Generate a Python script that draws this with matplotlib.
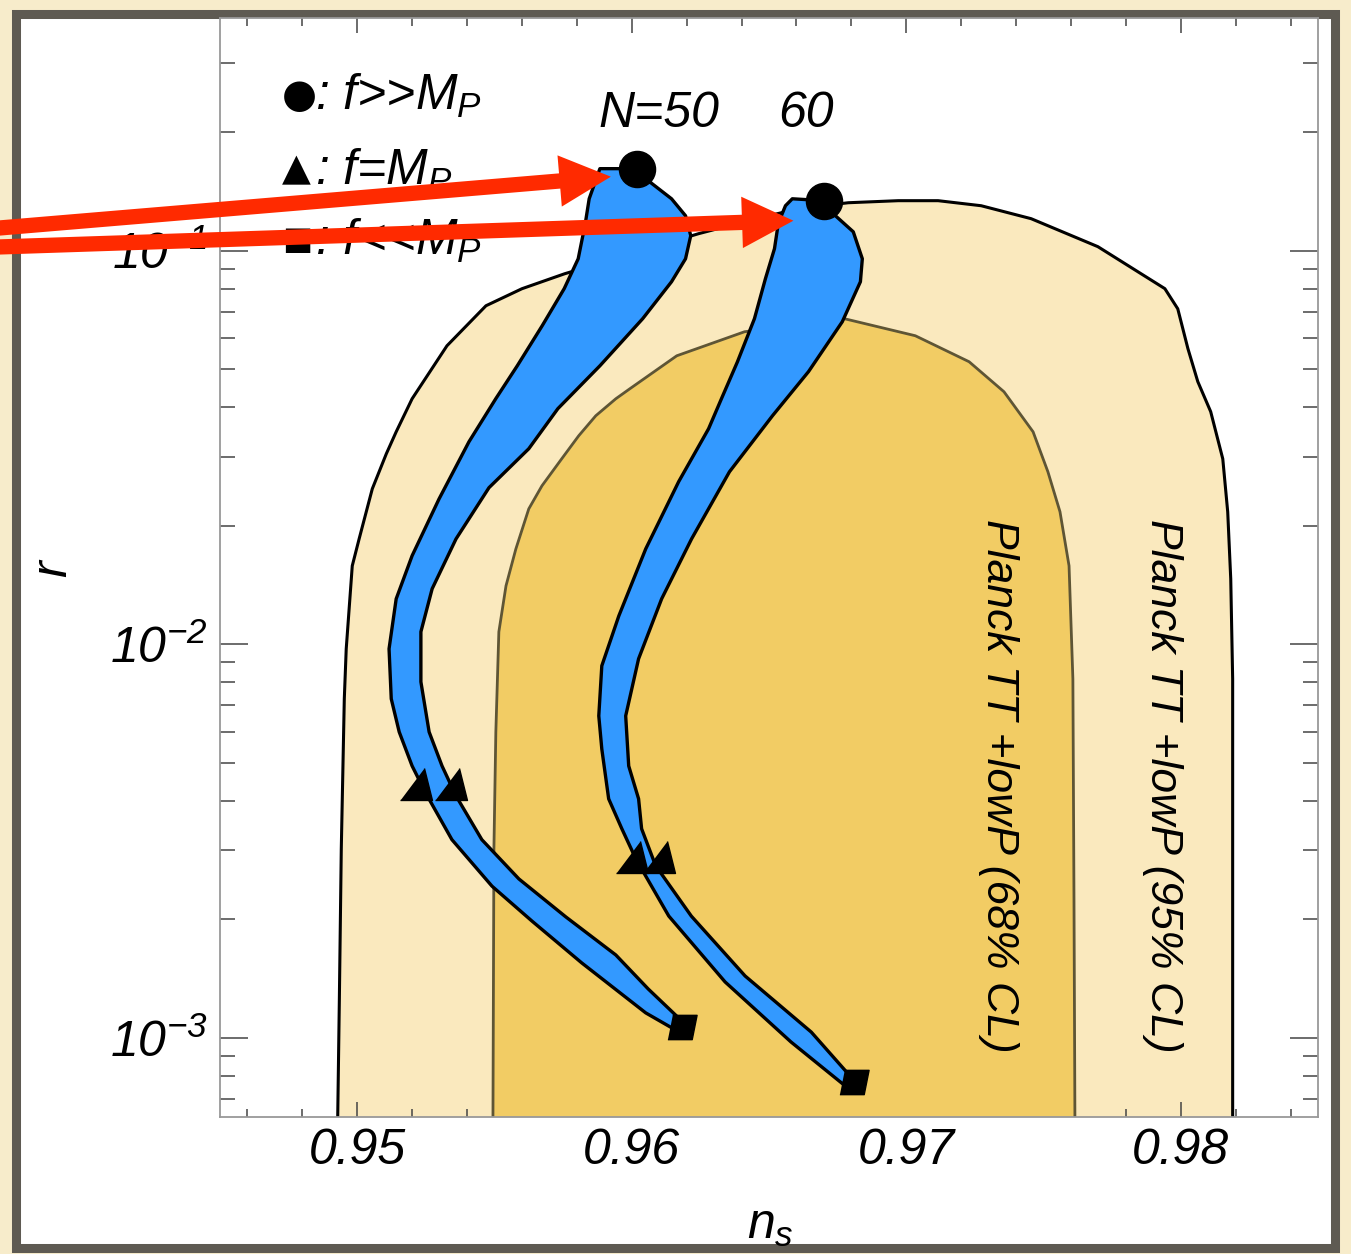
import numpy as np
import matplotlib
matplotlib.use('Agg')
import matplotlib.pyplot as plt
from matplotlib import patches, ticker

plt.rcParams['font.family'] = ['Liberation Sans', 'DejaVu Sans']
plt.rcParams['font.style'] = 'italic'
plt.rcParams['mathtext.fontset'] = 'custom'
plt.rcParams['mathtext.it'] = 'Liberation Sans:italic'
plt.rcParams['mathtext.rm'] = 'Liberation Sans:italic'

# contorno Planck TT+lowP 95% CL (ns, r)
ns_95 = [0.94927, 0.94935, 0.94942, 0.94953, 0.94960, 0.94982, 0.95007, 0.95055, 0.95106, 0.95142,
         0.95200, 0.95327, 0.95469, 0.95600, 0.95756, 0.95880, 0.96062, 0.96244, 0.96425, 0.96607,
         0.96789, 0.96971, 0.97116, 0.97273, 0.97455, 0.97698, 0.97942, 0.97989, 0.98026, 0.98062,
         0.98109, 0.98153, 0.98171, 0.98182, 0.98189, 0.98189, 0.98189]
r_95 = [5e-4, 1.256e-3, 3.02e-3, 7.27e-3, 9.74e-3, 1.583e-2, 1.853e-2, 2.484e-2, 3.048e-2, 3.467e-2,
        4.206e-2, 5.735e-2, 7.247e-2, 8.006e-2, 8.741e-2, 9.27e-2, 0.1012, 0.1105, 0.1192, 0.1279,
        0.1324, 0.1340, 0.1340, 0.1301, 0.1206, 0.1024, 0.0801, 0.0712, 0.0564, 0.0465,
        0.0390, 0.0296, 0.0217, 0.01467, 8.17e-3, 2.255e-3, 5e-4]

# contorno 68% CL
ns_68 = [0.95494, 0.95498, 0.95505, 0.95516, 0.95542, 0.95578, 0.95625, 0.95673, 0.95745, 0.95807,
         0.95869, 0.95942, 0.95993, 0.96164, 0.96411, 0.96775, 0.97033, 0.97229, 0.97356, 0.97462,
         0.97516, 0.97560, 0.97593, 0.97607, 0.97611, 0.97615]
r_68 = [5e-4, 3.02e-3, 5.99e-3, 1.076e-2, 1.408e-2, 1.748e-2, 2.209e-2, 2.528e-2, 2.961e-2, 3.388e-2,
        3.808e-2, 4.206e-2, 4.459e-2, 5.408e-2, 6.225e-2, 6.718e-2, 6.081e-2, 5.223e-2, 4.382e-2, 3.467e-2,
        2.744e-2, 2.172e-2, 1.583e-2, 8.17e-3, 2.255e-3, 5e-4]

# faixa do modelo para N=50 (borda externa e depois interna)
ns_n50 = [0.95884, 0.95845, 0.95831, 0.95805, 0.95754, 0.95674, 0.95583, 0.95505, 0.95407, 0.95298,
          0.95200, 0.95142, 0.95116, 0.95124, 0.95153, 0.95200, 0.95251, 0.95345, 0.95491, 0.95636,
          0.95818, 0.96051, 0.96153,
          0.96182, 0.96060, 0.95942, 0.95760, 0.95589, 0.95454, 0.95360, 0.95309, 0.95262, 0.95232,
          0.95232, 0.95273, 0.95360, 0.95480, 0.95625, 0.95731, 0.95884, 0.96040, 0.96145, 0.96196,
          0.96215, 0.96196, 0.96145, 0.96065, 0.96000]
r_n50 = [0.1616, 0.1355, 0.1175, 0.0954, 0.0801, 0.0645, 0.0510, 0.0421, 0.0327, 0.0234,
         0.01679, 0.01305, 9.74e-3, 7.27e-3, 5.99e-3, 4.91e-3, 4.17e-3, 3.19e-3, 2.43e-3, 1.983e-3,
         1.551e-3, 1.158e-3, 1.054e-3,
         1.105e-3, 1.332e-3, 1.625e-3, 2.03e-3, 2.535e-3, 3.19e-3, 4.12e-3, 4.91e-3, 5.99e-3, 8.03e-3,
         1.076e-2, 1.384e-2, 1.853e-2, 2.50e-2, 3.14e-2, 3.97e-2, 0.0510, 0.0672, 0.0834, 0.0954,
         0.1092, 0.1227, 0.1355, 0.1497, 0.1616]

# faixa do modelo para N=60
ns_n60 = [0.96585, 0.96560, 0.96534, 0.96520, 0.96487, 0.96447, 0.96385, 0.96327, 0.96280, 0.96171,
          0.96051, 0.95953, 0.95891, 0.95880, 0.95891, 0.95916, 0.95964, 0.96015, 0.96135, 0.96340,
          0.96580, 0.96769,
          0.96795, 0.96654, 0.96413, 0.96217, 0.96087, 0.96036, 0.96025, 0.95989, 0.95978, 0.96025,
          0.96109, 0.96218, 0.96356, 0.96513, 0.96644, 0.96767, 0.96833, 0.96840, 0.96807, 0.96742,
          0.96700]
r_n60 = [0.1355, 0.1301, 0.1175, 0.1012, 0.0849, 0.0672, 0.0522, 0.0421, 0.0353, 0.0259,
         0.01748, 0.01181, 8.82e-3, 6.58e-3, 5.42e-3, 4.05e-3, 3.40e-3, 2.85e-3, 2.04e-3, 1.388e-3,
         9.77e-4, 7.64e-4,
         8.01e-4, 1.035e-3, 1.437e-3, 2.04e-3, 2.74e-3, 3.40e-3, 4.05e-3, 4.91e-3, 6.58e-3, 9.19e-3,
         1.305e-2, 1.853e-2, 2.744e-2, 3.81e-2, 0.0493, 0.0660, 0.0834, 0.0954, 0.1117, 0.1227,
         0.1340]

# marcadores: f>>M_P, f=M_P, f<<M_P
ns_circ = [0.96018, 0.96700]
r_circ = [0.1616, 0.1340]
ns_tri = [0.95215, 0.95342, 0.96000, 0.96098]
r_tri = [4.42e-3, 4.42e-3, 2.88e-3, 2.88e-3]
ns_sq = [0.96182, 0.96811]
r_sq = [1.067e-3, 7.73e-4]

# pontas das setas vermelhas
ns_seta = [0.95924, 0.96589]
r_seta = [0.1542, 0.1192]
y_cauda = [0.8175, 0.8028]

# legenda dentro do grafico
leg_simbolos = ['●', '▲', '■']
leg_textos = [': f>>$M_P$', ': f=$M_P$', ': f<<$M_P$']
leg_r = [0.2477, 0.1597, 0.1060]

x_ticks = [0.95, 0.96, 0.97, 0.98]
y_ticks = [1e-3, 1e-2, 1e-1]
y_ticklabels = [r'$\mathit{10^{-3}}$', r'$\mathit{10^{-2}}$', r'$\mathit{10^{-1}}$']

bege = '#F7ECCB'
moldura = '#5E5A52'
cor95 = '#FAE9BE'
cor68 = '#F2CC64'
borda68 = '#5E5535'
azul = '#3399FF'
vermelho = '#FF2A00'

fig = plt.figure(figsize=(13.51, 12.54), dpi=100, facecolor=bege)

# moldura escura com fundo branco
fig.add_artist(patches.Rectangle((0.01221, 0.00478), 0.97558, 0.98406, transform=fig.transFigure,
                                 fc='white', ec=moldura, lw=6.5, zorder=-5))

ax = fig.add_axes([0.1628, 0.1093, 0.8128, 0.8763])
ax.set_facecolor('white')
ax.set_yscale('log')
ax.set_xlim(0.945, 0.985)
ax.set_ylim(6.3e-4, 0.39)

ax.fill(ns_95, r_95, fc=cor95, ec='black', lw=2.2, zorder=1, joinstyle='round')
ax.fill(ns_68, r_68, fc=cor68, ec=borda68, lw=2.0, zorder=2, joinstyle='round')
ax.fill(ns_n50, r_n50, fc=azul, ec='black', lw=2.4, zorder=3, joinstyle='round')
ax.fill(ns_n60, r_n60, fc=azul, ec='black', lw=2.4, zorder=3, joinstyle='round')

tri = [(-0.5, -0.5), (0.5, -0.5), (0.25, 0.5)]
quad = [(-0.6, -0.5), (0.4, -0.5), (0.6, 0.5), (-0.4, 0.5)]
ax.plot(ns_circ, r_circ, ls='none', marker='o', ms=26, mfc='black', mec='black', zorder=5)
ax.plot(ns_tri, r_tri, ls='none', marker=tri, ms=23, mfc='black', mec='black', zorder=5)
ax.plot(ns_sq, r_sq, ls='none', marker=quad, ms=21, mfc='black', mec='black', zorder=5)

# textos
ax.text(0.97335, 4.37e-3, 'Planck TT +lowP (68% CL)', rotation=-90, fontsize=32,
        ha='center', va='center', zorder=4)
ax.text(0.97935, 4.37e-3, 'Planck TT +lowP (95% CL)', rotation=-90, fontsize=32,
        ha='center', va='center', zorder=4)
ax.text(0.96098, 0.2229, 'N=50', fontsize=36, ha='center', va='center')
ax.text(0.96636, 0.2229, '60', fontsize=36, ha='center', va='center')

tamanhos = [29, 27, 23]
for simb, txt, rr, tam in zip(leg_simbolos, leg_textos, leg_r, tamanhos):
    ax.text(0.94725, rr, simb, fontsize=tam, family='DejaVu Sans', ha='left', va='center')
    ax.text(0.94848, rr, txt, fontsize=36, ha='left', va='center')

# setas vermelhas saindo da borda esquerda
for xs, ys, yc in zip(ns_seta, r_seta, y_cauda):
    ax.annotate('', xy=(xs, ys), xycoords='data', xytext=(-0.008, yc), textcoords='figure fraction',
                arrowprops=dict(arrowstyle='simple,head_length=37,head_width=37,tail_width=11',
                                mutation_scale=1, fc=vermelho, ec='none', lw=0,
                                shrinkA=0, shrinkB=0),
                annotation_clip=False, zorder=10)

ax.xaxis.set_major_locator(ticker.FixedLocator(x_ticks))
ax.xaxis.set_major_formatter(ticker.FormatStrFormatter('%.2f'))
ax.xaxis.set_minor_locator(ticker.MultipleLocator(0.002))
ax.yaxis.set_major_locator(ticker.FixedLocator(y_ticks))
ax.yaxis.set_major_formatter(ticker.FixedFormatter(y_ticklabels))
ax.yaxis.set_minor_locator(ticker.LogLocator(base=10, subs=np.arange(2, 10)))
ax.yaxis.set_minor_formatter(ticker.NullFormatter())

ax.tick_params(axis='both', which='both', direction='in', top=True, right=True,
               color='#444444', width=1.1, labelsize=36)
ax.tick_params(axis='x', which='major', length=11, pad=8)
ax.tick_params(axis='x', which='minor', length=6)
ax.tick_params(axis='y', which='major', length=20, pad=9)
ax.tick_params(axis='y', which='minor', length=11)
for s in ax.spines.values():
    s.set_color('#999999')
    s.set_linewidth(1.3)

ax.set_xlabel('$n_s$', fontsize=36)
ax.set_ylabel('$r$', fontsize=36)
ax.xaxis.set_label_coords(0.501, -0.078)
ax.yaxis.set_label_coords(-0.130, 0.50)

fig.savefig('out.png', dpi=100, facecolor=bege)
